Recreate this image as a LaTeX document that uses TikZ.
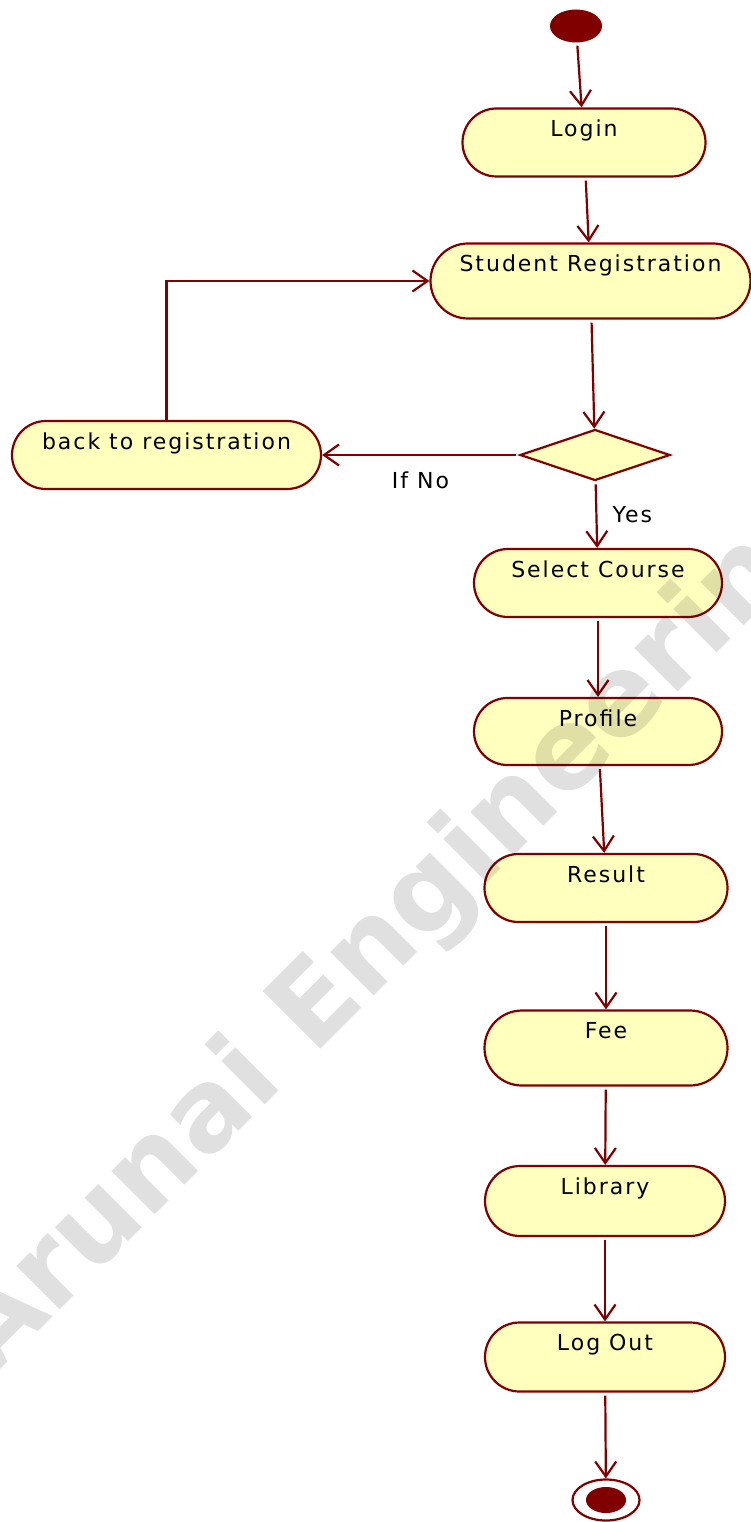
\documentclass[tikz,border=0pt]{standalone}
\usepackage{fontspec}
\setmainfont{DejaVu Sans}[LetterSpace=9]
\newfontfamily\markfont{DejaVu Sans}
\usetikzlibrary{shapes.geometric,arrows.meta}
\definecolor{umlred}{RGB}{128,0,0}
\definecolor{umlfill}{RGB}{255,255,190}
\tikzset{
  act/.style={rectangle,draw=umlred,fill=umlfill,line width=2.2pt,inner xsep=4pt,inner ysep=0pt,
    text height=28pt,font=\fontsize{22}{26}\selectfont},
  flow/.style={draw=umlred,line width=2.2pt,-{Straight Barb[length=15pt,width=21pt]},shorten <=3pt},
  lbl/.style={font=\fontsize{22}{26}\selectfont}
}
\begin{document}
\begin{tikzpicture}[x=1pt,y=-1pt]
			\useasboundingbox (0,0) rectangle (751,1522);
			\node[ellipse,fill=umlred,minimum width=52pt,minimum height=33pt,inner sep=0pt] (start) at (576,26) {};
			\foreach \n/\t/\x/\y/\w/\h [evaluate=\h as \td using \h-28, evaluate=\h as \rc using \h/2] in {
				login/Login/584/142.5/243/68,
				reg/Student Registration/590.5/281/320/75,
				back/back to registration/166.5/455/309/68,
				select/Select Course/598/583/248/68,
				profile/Profile/598/731.5/248/67,
				result/Result/606/888/243/68,
				fee/Fee/606/1048/243/75,
				library/Library/605/1201/240/70,
				logout/Log Out/605/1357/240/69}
			\node[act,minimum width=\w pt,text depth=\td pt,rounded corners=\rc pt] (\n) at (\x,\y) {\t};
			\node[diamond,aspect=3,draw=umlred,fill=umlfill,line width=2.2pt,inner sep=0pt,
				minimum width=150pt,minimum height=51pt] (dec) at (595,455) {};
			\node[ellipse,draw=umlred,fill=white,line width=2.2pt,minimum width=67pt,minimum height=41pt] (endout) at (606,1500) {};
			\node[ellipse,fill=umlred,minimum width=40pt,minimum height=26pt,inner sep=0pt] (endin) at (endout) {};
			\foreach \a/\b in {start/login,login/reg,reg/dec,select/profile,profile/result,result/fee,fee/library,library/logout,logout/endout}
			\draw[flow] (\a) -- (\b);
			\draw[flow] (dec) -- (select) node[lbl,pos=0.5,xshift=36pt] {Yes};
			\draw[flow] (dec.west) -- (back.east) node[lbl,pos=0.5,yshift=-25pt] {If No};
			\draw[flow,shorten <=0pt] (back.north) |- (reg.west);
			\node[anchor=base west,rotate=45,text=black,opacity=0.12,inner sep=0pt,
				font=\markfont\bfseries\fontsize{112}{112}\selectfont] (mark) at (-8,1378) {Arunai Engineering};
	\end{tikzpicture}
\end{document}
